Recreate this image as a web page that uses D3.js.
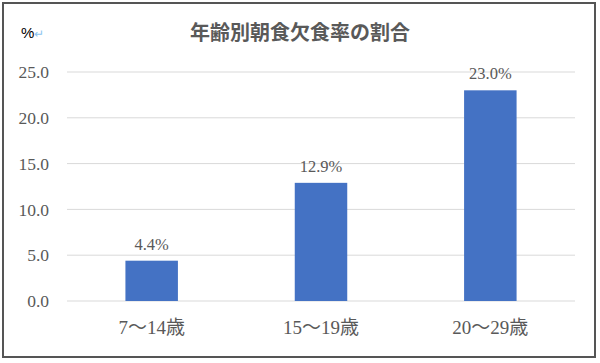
<!DOCTYPE html>
<meta charset="utf-8">
<script src="https://d3js.org/d3.v7.min.js"></script>
<style>
  body { margin: 0; background: #fff; }
  svg text { fill: #595959; }
</style>
<div id="chart"></div>
<script>
// data
var categories = ["7～14歳", "15～19歳", "20～29歳"];
var values = [4.4, 12.9, 23.0];
var yTicks = [0, 5, 10, 15, 20, 25];
var chartTitle = "年齢別朝食欠食率の割合";

var W = 600, H = 363;
var margin = { top: 72, right: 25, bottom: 62, left: 67 };

var svg = d3.select("#chart").append("svg")
    .attr("width", W)
    .attr("height", H);

// outer frame
svg.append("rect")
    .attr("x", 3).attr("y", 3)
    .attr("width", 592).attr("height", 354)
    .attr("fill", "#fff")
    .attr("stroke", "#555")
    .attr("stroke-width", 2);

var x = d3.scaleBand()
    .domain(categories)
    .range([margin.left, W - margin.right])
    .paddingInner(0.69)
    .paddingOuter(0.345);

var y = d3.scaleLinear()
    .domain([0, 25])
    .range([H - margin.bottom, margin.top]);

// gridlines
svg.append("g")
  .selectAll("line")
  .data(yTicks)
  .enter().append("line")
    .attr("x1", margin.left)
    .attr("x2", W - margin.right)
    .attr("y1", function(d) { return y(d); })
    .attr("y2", function(d) { return y(d); })
    .attr("stroke", "#d9d9d9")
    .attr("stroke-width", 1);

// y axis labels
var yAxis = svg.append("g")
    .attr("transform", "translate(" + (margin.left - 18) + ",0)")
    .call(d3.axisLeft(y).tickValues(yTicks).tickSize(0).tickFormat(d3.format(".1f")));
yAxis.select(".domain").remove();
yAxis.selectAll("text")
    .attr("x", 0)
    .style("font-family", "'Liberation Serif', 'DejaVu Serif', serif")
    .style("font-size", "17.5px")
    .style("fill", "#595959");

// bars
svg.append("g")
  .selectAll("rect")
  .data(values)
  .enter().append("rect")
    .attr("x", function(d, i) { return x(categories[i]); })
    .attr("y", function(d) { return y(d); })
    .attr("width", x.bandwidth())
    .attr("height", function(d) { return y(0) - y(d); })
    .attr("fill", "#4472c4");

// value labels
svg.append("g")
  .selectAll("text")
  .data(values)
  .enter().append("text")
    .attr("x", function(d, i) { return x(categories[i]) + x.bandwidth() / 2; })
    .attr("y", function(d) { return y(d) - 11; })
    .attr("text-anchor", "middle")
    .style("font-family", "'Liberation Serif', 'DejaVu Serif', serif")
    .style("font-size", "16.5px")
    .text(function(d) { return d.toFixed(1) + "%"; });

// x axis labels
var xAxis = svg.append("g")
    .attr("transform", "translate(0," + (H - margin.bottom) + ")")
    .call(d3.axisBottom(x).tickSize(0).tickPadding(20));
xAxis.select(".domain").remove();
xAxis.selectAll("text")
    .style("font-family", "'Liberation Serif', 'Noto Sans CJK JP', serif")
    .style("font-size", "19px")
    .style("fill", "#595959");

// title
svg.append("text")
    .attr("x", 300)
    .attr("y", 40)
    .attr("text-anchor", "middle")
    .style("font-family", "'Noto Sans CJK JP', sans-serif")
    .style("font-weight", "bold")
    .style("font-size", "20px")
    .text(chartTitle);

// unit mark
var unit = svg.append("text")
    .attr("x", 21)
    .attr("y", 38)
    .style("font-family", "'Liberation Sans', sans-serif")
    .style("font-size", "15px");
unit.append("tspan").style("fill", "#000").text("%");
unit.append("tspan").style("fill", "#8cc4f0").style("font-size", "12px").text("↵");
</script>
